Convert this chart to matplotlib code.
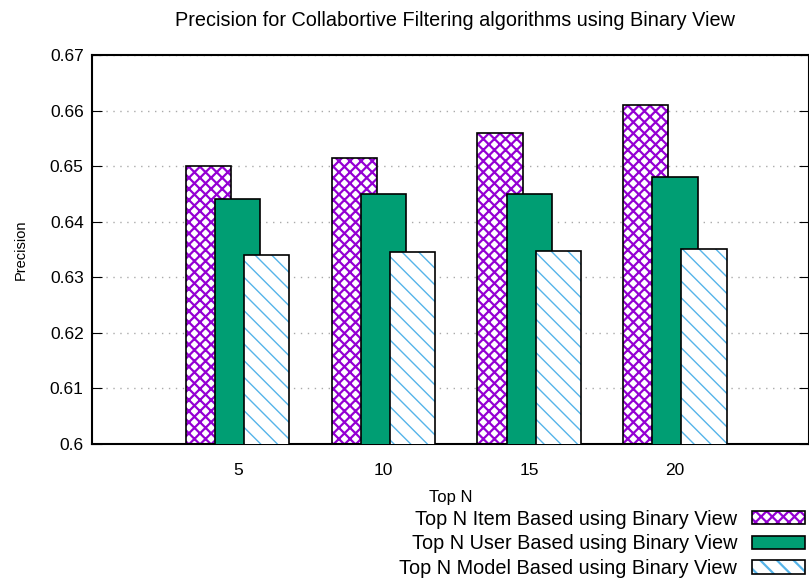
import numpy as np
import matplotlib.pyplot as plt
from matplotlib.patches import Patch
from matplotlib.legend_handler import HandlerTuple

plt.rcParams['font.family'] = ['Liberation Sans', 'DejaVu Sans']
plt.rcParams['hatch.linewidth'] = 1.6

top_n = ['5', '10', '15', '20']
item_based = [0.650, 0.6515, 0.656, 0.661]
user_based = [0.644, 0.645, 0.645, 0.648]
model_based = [0.634, 0.6345, 0.6348, 0.635]

labels = ['Top N Item Based using Binary View',
          'Top N User Based using Binary View',
          'Top N Model Based using Binary View']

purple = '#9400d3'
green = '#009e73'
sky = '#56b4e9'

fig = plt.figure(figsize=(8.09, 5.8), dpi=100)
ax = fig.add_axes([0.1137, 0.2345, 0.8863, 0.6707])

index = np.arange(len(top_n))
bar_width = 0.31
offset = 0.2

# hatched fills first, black outlines drawn on top
ax.bar(index - offset, item_based, bar_width, color='white',
       edgecolor=purple, hatch='xxx', linewidth=0, zorder=2)
ax.bar(index - offset, item_based, bar_width, color='none',
       edgecolor='black', linewidth=1.2, zorder=3)
ax.bar(index, user_based, bar_width, color=green,
       edgecolor='black', linewidth=1.2, zorder=4)
with plt.rc_context({'hatch.linewidth': 1.0}):
    ax.bar(index + offset, model_based, bar_width, color='white',
           edgecolor=sky, hatch='\\\\', linewidth=0, zorder=5)
    h_model_fill = Patch(facecolor='white', edgecolor=sky, hatch='\\\\', linewidth=0)
ax.bar(index + offset, model_based, bar_width, color='none',
       edgecolor='black', linewidth=1.2, zorder=6)

ax.set_ylim(0.6, 0.67)
ax.set_xlim(-1, 3.92)
ax.set_yticks(np.arange(0.60, 0.671, 0.01))
ax.set_yticklabels(['0.6', '0.61', '0.62', '0.63', '0.64', '0.65', '0.66', '0.67'])
ax.set_xticks(index)
ax.set_xticklabels(top_n)
ax.tick_params(axis='y', direction='in', length=7, right=True, labelsize=12.5, pad=6)
ax.tick_params(axis='x', length=0, labelsize=12.5, pad=14)
ax.yaxis.grid(True, linestyle=(0, (1, 4)), color='#aaaaaa', linewidth=1)
ax.set_axisbelow(True)
for s in ax.spines.values():
    s.set_linewidth(1.5)

fig.text(0.562, 0.965, 'Precision for Collabortive Filtering algorithms using Binary View',
         fontsize=14.3, ha='center', va='center')
ax.set_ylabel('Precision', fontsize=10.5, labelpad=16)
ax.set_xlabel('Top N', fontsize=12, labelpad=8.5)

h_item = (Patch(facecolor='white', edgecolor=purple, hatch='xxx', linewidth=0),
          Patch(facecolor='none', edgecolor='black', linewidth=1.2))
h_user = Patch(facecolor=green, edgecolor='black', linewidth=1.2)
h_model = (h_model_fill, Patch(facecolor='none', edgecolor='black', linewidth=1.2))
fig.legend([h_item, h_user, h_model], labels,
           handler_map={tuple: HandlerTuple(ndivide=1, pad=0)},
           loc='lower right', bbox_to_anchor=(1.007, -0.0135), frameon=False,
           markerfirst=False, fontsize=14.3, handlelength=2.66, handleheight=0.65,
           labelspacing=0.28, handletextpad=0.75, borderpad=0)

fig.savefig('out.png', dpi=100)
